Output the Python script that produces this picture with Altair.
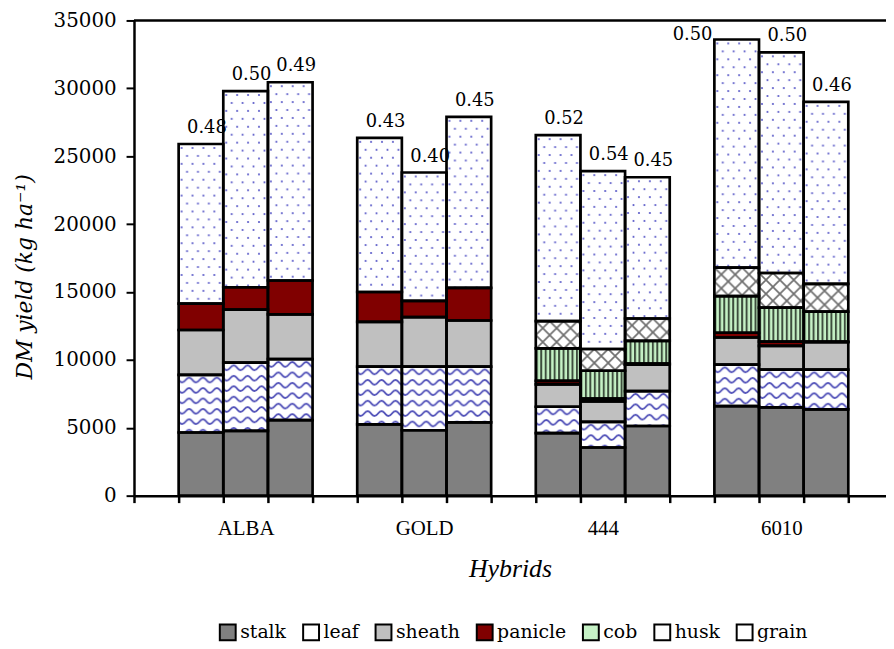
import base64
import altair as alt
import pandas as pd

# ---------------- data ----------------
hybrids = ["ALBA", "GOLD", "444", "6010"]
parts = ["stalk", "leaf", "sheath", "panicle", "cob", "husk", "grain"]
# 12 bars: three per hybrid, in order ALBA, GOLD, 444, 6010 (kg DM ha-1)
stalk = [4650, 4770, 5570, 5250, 4820, 5400, 4600, 3550, 5130, 6600, 6500, 6350]
leaf = [4250, 5030, 4480, 4250, 4680, 4100, 1950, 1880, 2570, 3050, 2780, 2930]
sheath = [3300, 3900, 3300, 3300, 3650, 3400, 1650, 1520, 1950, 2000, 1750, 2020]
panicle = [1950, 1650, 2500, 2200, 1200, 2400, 250, 200, 80, 350, 320, 50]
cob = [0, 0, 0, 0, 0, 0, 2400, 2050, 1670, 2700, 2500, 2200]
husk = [0, 0, 0, 0, 0, 0, 2000, 1600, 1650, 2100, 2550, 2050]
grain = [11750, 14450, 14600, 11350, 9450, 12600, 13700, 13100, 10400, 16800, 16250, 13400]
hi_labels = ["0.48", "0.50", "0.49", "0.43", "0.40", "0.45",
             "0.52", "0.54", "0.45", "0.50", "0.50", "0.46"]
y_ticks = [0, 5000, 10000, 15000, 20000, 25000, 30000, 35000]

series = {"stalk": stalk, "leaf": leaf, "sheath": sheath, "panicle": panicle,
          "cob": cob, "husk": husk, "grain": grain}

# ---------------- build tables ----------------
rows, lab_rows = [], []
n_bars = len(stalk)
for b in range(n_bars):
    g, j = divmod(b, 3)
    slot = 1 + 4 * g + j          # bar slot on the category axis
    cum = 0
    for k, p in enumerate(parts):
        v = series[p][b]
        if v > 0:
            rows.append({"bar": b, "hybrid": hybrids[g], "part": p, "order": k,
                         "x0": slot, "x1": slot + 1, "y0": cum, "y1": cum + v})
        cum += v
    lab_rows.append({"bar": b, "x0": slot, "xc": slot + 0.5, "total": cum,
                     "hi": hi_labels[b]})
seg = pd.DataFrame(rows)
lab = pd.DataFrame(lab_rows)

# ---------------- styles ----------------
FONT = "Liberation Serif"
FONT2 = "DejaVu Serif"
W, H = 758, 479
SLOT_PX = 45
XMAX = W / SLOT_PX

base_colors = ["#808080", "#ffffff", "#c0c0c0", "#800000", "#c6f2c6", "#ffffff", "#ffffff"]


def pattern_url(tw, th, body):
    svg = ('<svg xmlns="http://www.w3.org/2000/svg" width="100%" height="100%">'
           '<defs><pattern id="p" patternUnits="userSpaceOnUse" '
           f'width="{tw}" height="{th}">{body}</pattern></defs>'
           '<rect width="100%" height="100%" fill="url(#p)"/></svg>')
    return "data:image/svg+xml;base64," + base64.b64encode(svg.encode()).decode()


patterns = {
    "leaf": pattern_url(14, 10.5,
                        '<path d="M-7,5.25 Q-3.5,0.5 0,5.25 T7,5.25 T14,5.25 T21,5.25" '
                        'fill="none" stroke="#5050b8" stroke-width="1.9"/>'),
    "cob": pattern_url(4.5, 10,
                       '<rect width="4.5" height="10" fill="#c6f2c6"/>'
                       '<rect x="0" width="2" height="10" fill="#3d4d3d"/>'),
    "husk": pattern_url(14, 14,
                        '<path d="M-1,-1 L15,15 M15,-1 L-1,15" stroke="#6e6e6e" '
                        'stroke-width="1.7" fill="none"/>'),
    "grain": pattern_url(11, 16,
                         '<circle cx="3" cy="4" r="1.1" fill="#5a5ac8"/>'
                         '<circle cx="8.5" cy="12" r="1.1" fill="#5a5ac8"/>'),
}
url_expr = " : ".join(f"datum.part === '{k}' ? '{v}'" for k, v in patterns.items()) + " : ''"

label_expr = " : ".join(f"datum.value === {1 + 4 * g + 1} ? '{h}'"
                        for g, h in enumerate(hybrids)) + " : ''"

xscale = alt.Scale(domain=[0, XMAX], nice=False, zero=False)
yscale = alt.Scale(domain=[0, 35000], nice=False)

xaxis = alt.Axis(title="Hybrids", values=list(range(0, 17)), labelExpr=label_expr,
                 labelOffset=SLOT_PX / 2, labelFlush=False, labelOverlap=False,
                 labelFont=FONT, labelFontSize=21, labelPadding=15, labelColor="black",
                 tickSize=7, tickWidth=2.5, tickColor="black",
                 domainWidth=2.5, domainColor="black", grid=False,
                 titleFont=FONT, titleFontSize=26, titleFontStyle="italic",
                 titleFontWeight="normal", titleColor="black",
                 titleY=81, titleBaseline="alphabetic")
yaxis = alt.Axis(title="DM yield (kg ha\u207b\u00b9)", values=y_ticks, format="d",
                 labelFont=FONT2, labelFontSize=20, labelPadding=10, labelColor="black",
                 tickSize=8, tickWidth=2, tickColor="black",
                 domainWidth=2.5, domainColor="black", grid=False,
                 titleFont=FONT2, titleFontSize=22, titleFontStyle="italic",
                 titleFontWeight="normal", titleColor="black",
                 titleX=-110, titleY=258, titleBaseline="middle", titleAlign="center")


def X(f):
    return alt.X(f"{f}:Q", scale=xscale, axis=xaxis)


def Y(f):
    return alt.Y(f"{f}:Q", scale=yscale, axis=yaxis)


fills = alt.Chart(seg).mark_rect().encode(
    x=X("x0"), x2="x1", y=Y("y0"), y2="y1",
    fill=alt.Fill("part:N", scale=alt.Scale(domain=parts, range=base_colors),
                  legend=alt.Legend(title=None, orient="none", direction="horizontal",
                                    legendX=85, legendY=607,
                                    symbolType="square", symbolSize=256,
                                    symbolStrokeColor="black", symbolStrokeWidth=2,
                                    labelFont=FONT2, labelFontSize=19, labelColor="black",
                                    labelOffset=3, columnPadding=12)),
)

texture = alt.Chart(seg).transform_filter(
    alt.FieldOneOfPredicate(field="part", oneOf=list(patterns.keys()))
).transform_calculate(purl=url_expr).mark_image(aspect=False).encode(
    x=X("x0"), x2="x1", y=Y("y0"), y2="y1", url=alt.Url("purl:N")
)

outline = alt.Chart(seg).mark_rect(fillOpacity=0, stroke="black", strokeWidth=2.7).encode(
    x=X("x0"), x2="x1", y=Y("y0"), y2="y1"
)

top_line = alt.Chart(alt.Data(values=[{}])).mark_rule(color="black", strokeWidth=2.5).encode(
    x=alt.value(0), x2=alt.value(W), y=alt.value(0)
)

labels = alt.Chart(lab).transform_filter("datum.total < 33000").mark_text(
    font=FONT2, fontSize=18, color="black", align="center", baseline="alphabetic",
    dx=6, dy=-11).encode(x=X("xc"), y=Y("total"), text="hi:N")

labels_high = alt.Chart(lab).transform_filter("datum.total >= 33000").mark_text(
    font=FONT2, fontSize=18, color="black", align="right", baseline="alphabetic",
    dx=-2, dy=1).encode(x=X("x0"), y=Y("total"), text="hi:N")

chart = alt.layer(fills, texture, outline, top_line, labels, labels_high).properties(
    width=W, height=H,
    autosize=alt.AutoSizeParams(type="none"),
    padding={"left": 127, "top": 10, "right": 0, "bottom": 152},
).configure_view(stroke=None)

chart.save("out.html", embed_options={"renderer": "svg", "actions": False})
